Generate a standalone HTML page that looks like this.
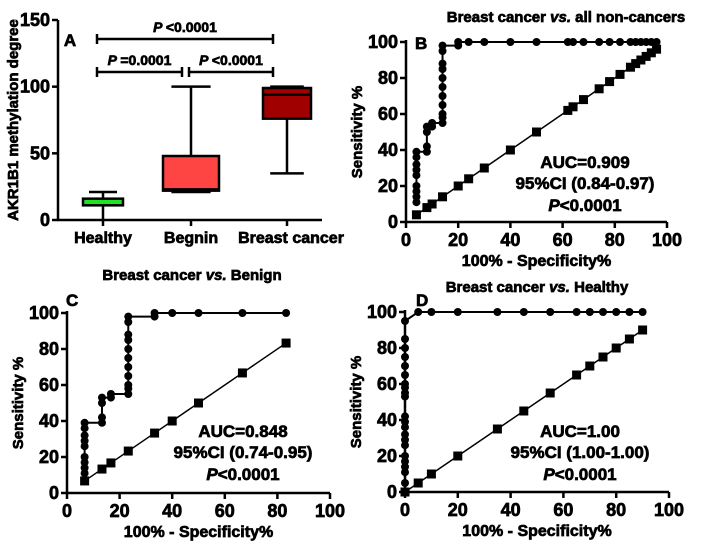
<!DOCTYPE html>
<html><head><meta charset="utf-8"><style>
body{margin:0;background:#fff}
svg text{font-family:"Liberation Sans",sans-serif;font-weight:bold;fill:#000;stroke:#000;stroke-width:0.7px}
</style></head><body>
<svg id="s" width="704" height="545" viewBox="0 0 704 545"></svg>
<script>
// Panel A data
const groups=["Healthy","Begnin","Breast cancer"];
const whiskLo=[0,21,35], boxLo=[11,22,76], med=[14,23,94], boxHi=[16,48,99], whiskHi=[21,100,100];
const boxColors=["#22e022","#ff4444","#a00000"];
const aTicks=[0,50,100,150];
// Panel B
const bX=[4,4,4,4,4,4,4,4,4,8,8,8,8,10,10,14,14,14,14,14,14,14,14,14,14,14,20,20,24,30,40,50,62,64,68,74,78,82,86,88,90,92,94,96];
const bY=[11,14,17,20,26,29,32,36,39,39,42,50,53,53,55,55,58,60,65,70,75,80,85,88,95,98,98,100,100,100,100,100,100,100,100,100,100,100,100,100,100,100,100,100];
const bRef=[4,8,10,14,20,24,30,40,50,62,64,68,74,78,82,86,88,90,92,94,96];
// Panel C
const cX=[6.7,6.7,6.7,6.7,6.7,6.7,6.7,6.7,6.7,13.3,13.3,13.3,13.3,16.7,16.7,23.3,23.3,23.3,23.3,23.3,23.3,23.3,23.3,23.3,23.3,23.3,33.3,33.3,40,50,66.7,83.3];
const cY=[11,14,17,20,26,29,32,36,39,39,42,50,53,53,55,55,58,60,65,70,75,80,85,88,95,98,98,100,100,100,100,100];
const cRef=[6.7,13.3,16.7,23.3,33.3,40,50,66.7,83.3];
// Panel D
const dX=[0,0,0,0,0,0,0,0,0,0,0,0,0,0,0,0,0,0,0,0,0,0,5,10,20,35,45,55,65,70,75,80,85,90];
const dY=[0,5,11,14,17,20,26,29,32,36,39,42,53,55,58,60,65,70,75,80,85,95,100,100,100,100,100,100,100,100,100,100,100,100];
const dRef=[0,5,10,20,35,45,55,65,70,75,80,85,90];
const rocTicks=[0,20,40,60,80,100];

const S=document.getElementById('s');const NS="http://www.w3.org/2000/svg";
function el(t,a,txt){const e=document.createElementNS(NS,t);for(const k in a)e.setAttribute(k,a[k]);if(txt!=null)e.textContent=txt;S.appendChild(e);return e;}
function line(x1,y1,x2,y2,w){return el('line',{x1,y1,x2,y2,stroke:'#000','stroke-width':w||2});}
function text(x,y,s,size,anchor,rot){const a={x,y,'font-size':size,'text-anchor':anchor||'middle','font-weight':'bold'};if(rot)a.transform=`rotate(${rot} ${x} ${y})`;return el('text',a,s);}

// ---- Panel A
const ay=v=>220-v*200/150;
const ax=[103,191,287];
const labelX=[103,191,291];
line(58,20,58,221,2.5);line(57,220,322,220,2.5);
aTicks.forEach(t=>{const l=line(52,ay(t),58,ay(t),2.5);
 const tx=text(50,ay(t)+6,t,18,'end');});
ax.forEach(x=>line(x,220,x,226,2.5));
groups.forEach((g,i)=>{const t=text(labelX[i],243,g,16);});
{const t=text(18,120,"AKR1B1 methylation degree",15,'middle',-90);}
text(70,46,"A",17,'middle');
groups.forEach((g,i)=>{const x=ax[i],hw=[20,28,24][i];
 line(x,ay(whiskLo[i]),x,ay(boxLo[i]),2.5);line(x,ay(boxHi[i]),x,ay(whiskHi[i]),2.5);
 line(x-hw*0.7,ay(whiskHi[i]),x+hw*0.7,ay(whiskHi[i]),2.5);
 if(whiskLo[i]>0)line(x-hw*0.7,ay(whiskLo[i]),x+hw*0.7,ay(whiskLo[i]),2.5);
 const r=el('rect',{x:x-hw,y:ay(boxHi[i]),width:hw*2,height:ay(boxLo[i])-ay(boxHi[i]),fill:boxColors[i],stroke:'#000','stroke-width':2.5});
 
 if(i>0)line(x-hw,ay(med[i]),x+hw,ay(med[i]),2.5);});
function bracket(x1,x2,y,lbl){line(x1,y,x2,y,2.5);line(x1,y-5,x1,y+5,2.5);line(x2,y-5,x2,y+5,2.5);
 const t=el('text',{x:(x1+x2)/2,y:y-7,'font-size':14,'text-anchor':'middle','font-weight':'bold'});
 const i=document.createElementNS(NS,'tspan');i.setAttribute('font-style','italic');i.textContent='P ';t.appendChild(i);t.appendChild(document.createTextNode(lbl));}
bracket(97,273,39,"<0.0001");bracket(97,182,72,"=0.0001");bracket(189,273,72,"<0.0001");

// ---- ROC panels
function roc(o,X,Y,ref,title,tx,ty,letter,lx,ly,auc,ci,textX,textY,name){
 const sx=v=>o.x0+v*(o.x1-o.x0)/100, sy=v=>o.y0-v*(o.y0-o.y1)/100;
 line(o.x0,o.y1-2,o.x0,o.y0+1,2.5);line(o.x0-1,o.y0,o.x1,o.y0,2.5);
 rocTicks.forEach(t=>{line(o.x0-6,sy(t),o.x0,sy(t),2.5);text(o.x0-8,sy(t)+6,t,18,'end');
  line(sx(t),o.y0,sx(t),o.y0+6,2.5);text(sx(t),o.y0+24,t,18);});
 text((o.x0+o.x1)/2,o.y0+44,"100% - Specificity%",16);
 text(o.x0-44,(o.y0+o.y1)/2,"Sensitivity %",15,'middle',-90);
 const tt=el('text',{x:tx,y:ty,'font-size':15,'text-anchor':'middle','font-weight':'bold'});
 
 tt.appendChild(document.createTextNode("Breast cancer "));const it=document.createElementNS(NS,'tspan');it.setAttribute('font-style','italic');it.textContent='vs.';tt.appendChild(it);tt.appendChild(document.createTextNode(title));
 text(lx,ly,letter,17,'start');
 el('polyline',{points:ref.map(v=>sx(v)+','+sy(v)).join(' '),fill:'none',stroke:'#000','stroke-width':1.5});
 ref.forEach(v=>{const r=el('rect',{x:sx(v)-4.5,y:sy(v)-4.5,width:9,height:9,fill:'#000'});
  });
 el('polyline',{points:X.map((v,i)=>sx(v)+','+sy(Y[i])).join(' '),fill:'none',stroke:'#000','stroke-width':2});
 X.forEach((v,i)=>{const c=el('circle',{cx:sx(v),cy:sy(Y[i]),r:4,fill:'#000'});
  });
 text(textX,textY,auc,17);text(textX,textY+21,ci,17);
 const p=el('text',{x:textX,y:textY+43,'font-size':17,'text-anchor':'middle','font-weight':'bold'});
 const pi=document.createElementNS(NS,'tspan');pi.setAttribute('font-style','italic');pi.textContent='P';p.appendChild(pi);p.appendChild(document.createTextNode('<0.0001'));
}
roc({x0:406,x1:667,y0:222,y1:42},bX,bY,bRef," all non-cancers",566,22,"B",415,49,"AUC=0.909","95%CI (0.84-0.97)",585,168,'panel-b');
roc({x0:67,x1:330,y0:493,y1:313},cX,cY,cRef," Benign",192,280,"C",66,306,"AUC=0.848","95%CI (0.74-0.95)",243,437,'panel-c');
roc({x0:405,x1:669,y0:492,y1:312},dX,dY,dRef," Healthy",537,292,"D",416,306,"AUC=1.00","95%CI (1.00-1.00)",580,437,'panel-d');
</script>
</body></html>
